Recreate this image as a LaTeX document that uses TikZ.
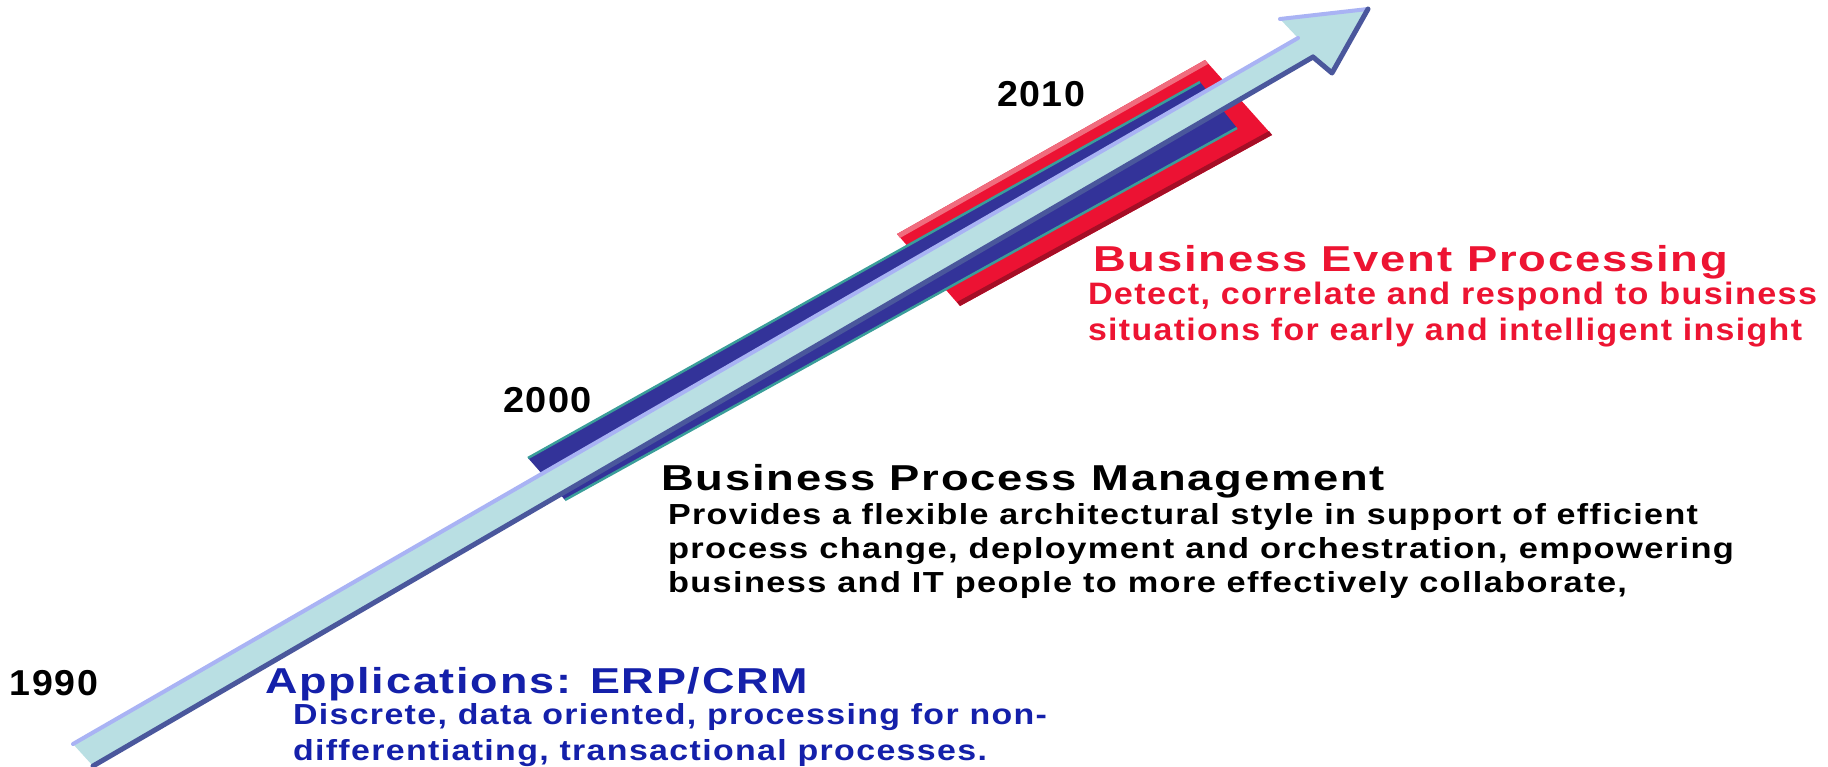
\documentclass[tikz,border=0pt]{standalone}
\usepackage{fontspec}
\usepackage{graphicx}
\setmainfont{Liberation Sans}
\newfontfamily\spfont{Liberation Sans}[LetterSpace=4]
\definecolor{arrowfill}{HTML}{B9DFE3}
\definecolor{arrowtop}{HTML}{A9B3F4}
\definecolor{arrowdark}{HTML}{4A579C}
\definecolor{barred}{HTML}{EC1233}
\definecolor{barredlight}{HTML}{F06C7E}
\definecolor{barreddark}{HTML}{A50E26}
\definecolor{barblue}{HTML}{333399}
\definecolor{barteal}{HTML}{3A9E9A}
\definecolor{txtred}{HTML}{ED1432}
\definecolor{txtblue}{HTML}{1420AA}
\newlength\fitlen
\newcommand\fitto[2]{\settowidth\fitlen{#2}\pgfmathsetmacro\fitfac{#1/\fitlen}\scalebox{\fitfac}[1]{#2}}
\begin{document}
\begin{tikzpicture}[x=1pt,y=-1pt,
  txt/.style={anchor=base west, inner sep=0pt, outer sep=0pt},
  yeartxt/.style={txt, font=\spfont\bfseries\fontsize{36}{40}\selectfont},
  titletxt/.style={txt, font=\spfont\bfseries\fontsize{36}{40}\selectfont},
  bodytxt/.style={txt, font=\spfont\bfseries\fontsize{29}{32}\selectfont},
  redbodytxt/.style={txt, text=txtred, font=\spfont\bfseries\fontsize{31}{34}\selectfont}]
\useasboundingbox (0,0) rectangle (1828,767);
\fill[white] (0,0) rectangle (1828,767);
% red bar
\fill[barred] (897,234) -- (1205,60) -- (1272,135) -- (960,306) -- cycle;
\fill[barredlight] (897,234) -- (1205,60) -- (1208,64) -- (900,238) -- cycle;
\fill[barreddark] (957,302) -- (1269,131) -- (1272,135) -- (960,306) -- cycle;
% blue bar
\fill[barblue] (528,458) -- (1200,82) -- (1237,128) -- (565,500) -- cycle;
\draw[barteal, line width=2.5] (528,458) -- (1200,82);
\draw[barteal, line width=2.5] (565,500) -- (1237,128);
% arrow
\fill[arrowfill] (73,744) -- (1298,38) -- (1280,19) -- (1368,9) -- (1332,73) -- (1313,57) -- (93,766) -- cycle;
\draw[arrowtop, line width=4, line cap=round] (73,744) -- (1298,38);
\draw[arrowtop, line width=4, line cap=round] (1280,19) -- (1368,9);
\draw[arrowdark, line width=5, line cap=round, line join=round] (1368,9) -- (1332,73) -- (1313,57);
\draw[arrowdark, line width=5, line cap=round] (93,766) -- (1313,57);
% years
\node[yeartxt] (y2010) at (997,107) {\fitto{88}{2010}};
\node[yeartxt] (y2000) at (503,412) {\fitto{89}{2000}};
\node[yeartxt] (y1990) at (10,695) {\fitto{88}{1990}};
% business event processing
\node[titletxt, text=txtred] (bepT) at (1093,272) {\fitto{635}{Business Event Processing}};
\node[redbodytxt] (bepA) at (1088,305) {\fitto{729}{Detect, correlate and respond to business}};
\node[redbodytxt] (bepB) at (1088,340) {\fitto{714}{situations for early and intelligent insight}};
% business process management
\node[titletxt] (bpmT) at (661,490) {\fitto{724}{Business Process Management}};
\node[bodytxt] (bpmA) at (668,524) {\fitto{1030}{Provides a flexible architectural style in support of efficient}};
\node[bodytxt] (bpmB) at (668,558) {\fitto{1066}{process change, deployment and orchestration, empowering}};
\node[bodytxt] (bpmC) at (668,592) {\fitto{959}{business and IT people to more effectively collaborate,}};
% applications
\node[titletxt, text=txtblue] (appT) at (265,693) {\fitto{543}{Applications: ERP/CRM}};
\node[bodytxt, text=txtblue] (appA) at (293,724) {\fitto{754}{Discrete, data oriented, processing for non-}};
\node[bodytxt, text=txtblue] (appB) at (293,760) {\fitto{694}{differentiating, transactional processes.}};
\end{tikzpicture}
\end{document}
